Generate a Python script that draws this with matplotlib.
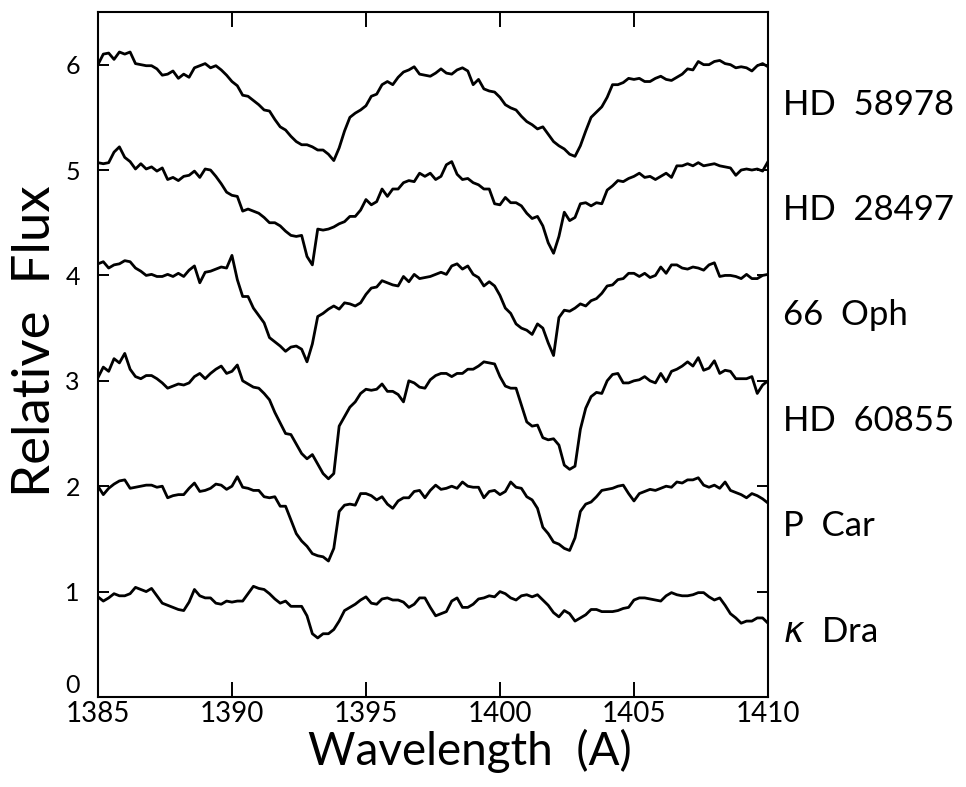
import numpy as np
import matplotlib
matplotlib.use('Agg')
import matplotlib.pyplot as plt
import matplotlib.transforms as mtransforms

plt.rcParams['font.family'] = ['Lato', 'DejaVu Sans']
plt.rcParams['mathtext.fontset'] = 'dejavusans'
plt.rcParams['xtick.direction'] = 'in'
plt.rcParams['ytick.direction'] = 'in'

wavelength = np.linspace(1385, 1410, 126)

star_names = ['HD  58978', 'HD  28497', '66  Oph', 'HD  60855', 'P  Car', r'$\kappa$  Dra']
levels = [6, 5, 4, 3, 2, 1]

hd58978 = [6.00, 6.10, 6.11, 6.05, 6.12, 6.10, 6.12, 6.01, 6.00, 5.99,
           5.99, 5.96, 5.90, 5.91, 5.94, 5.87, 5.91, 5.88, 5.97, 5.99,
           6.01, 5.97, 5.99, 5.95, 5.90, 5.84, 5.80, 5.71, 5.70, 5.66,
           5.62, 5.57, 5.56, 5.48, 5.41, 5.38, 5.32, 5.27, 5.24, 5.24,
           5.22, 5.19, 5.19, 5.15, 5.09, 5.21, 5.37, 5.50, 5.54, 5.57,
           5.61, 5.70, 5.72, 5.81, 5.84, 5.81, 5.88, 5.93, 5.95, 5.98,
           5.91, 5.90, 5.89, 5.92, 5.96, 5.92, 5.91, 5.95, 5.97, 5.94,
           5.81, 5.86, 5.77, 5.75, 5.74, 5.69, 5.62, 5.59, 5.57, 5.51,
           5.46, 5.43, 5.39, 5.41, 5.34, 5.27, 5.23, 5.20, 5.15, 5.13,
           5.23, 5.37, 5.50, 5.55, 5.60, 5.69, 5.81, 5.81, 5.83, 5.87,
           5.86, 5.87, 5.84, 5.84, 5.87, 5.89, 5.86, 5.85, 5.88, 5.91,
           5.96, 5.95, 6.03, 6.00, 6.00, 6.03, 6.04, 6.01, 6.00, 5.97,
           5.98, 5.97, 5.94, 5.99, 6.01, 5.98]

hd28497 = [5.07, 5.06, 5.07, 5.17, 5.22, 5.12, 5.08, 5.01, 5.06, 5.01,
           5.03, 4.99, 5.02, 4.91, 4.93, 4.90, 4.94, 4.95, 4.99, 4.93,
           5.01, 5.00, 4.94, 4.87, 4.79, 4.76, 4.75, 4.61, 4.63, 4.61,
           4.59, 4.55, 4.50, 4.50, 4.47, 4.42, 4.38, 4.37, 4.38, 4.18,
           4.10, 4.44, 4.43, 4.44, 4.46, 4.49, 4.51, 4.56, 4.56, 4.62,
           4.72, 4.67, 4.70, 4.82, 4.75, 4.82, 4.82, 4.88, 4.90, 4.89,
           4.97, 4.94, 4.97, 4.91, 4.94, 5.05, 5.08, 4.96, 4.91, 4.92,
           4.88, 4.86, 4.82, 4.82, 4.68, 4.67, 4.74, 4.69, 4.69, 4.66,
           4.59, 4.54, 4.56, 4.47, 4.31, 4.21, 4.37, 4.60, 4.52, 4.55,
           4.68, 4.69, 4.66, 4.69, 4.68, 4.81, 4.85, 4.90, 4.89, 4.92,
           4.94, 4.97, 4.93, 4.94, 4.91, 4.94, 4.97, 4.93, 5.04, 5.04,
           5.06, 5.04, 5.07, 5.04, 5.05, 5.06, 5.04, 5.03, 5.02, 4.95,
           5.00, 5.01, 5.00, 5.01, 4.99, 5.08]

oph66 = [4.11, 4.13, 4.07, 4.10, 4.11, 4.14, 4.13, 4.07, 4.04, 4.00,
         4.01, 3.99, 3.99, 4.01, 3.99, 4.02, 3.99, 4.05, 4.09, 3.93,
         4.03, 4.04, 4.06, 4.08, 4.07, 4.19, 3.96, 3.80, 3.80, 3.69,
         3.62, 3.55, 3.41, 3.37, 3.33, 3.28, 3.32, 3.33, 3.30, 3.18,
         3.35, 3.61, 3.64, 3.68, 3.71, 3.68, 3.74, 3.73, 3.71, 3.74,
         3.82, 3.88, 3.89, 3.95, 3.93, 3.91, 3.90, 3.99, 3.94, 4.01,
         3.97, 3.98, 3.99, 4.01, 4.03, 4.01, 4.09, 4.11, 4.06, 4.09,
         4.01, 3.98, 3.90, 3.94, 3.90, 3.81, 3.69, 3.64, 3.54, 3.50,
         3.48, 3.44, 3.54, 3.50, 3.36, 3.24, 3.60, 3.67, 3.66, 3.69,
         3.73, 3.71, 3.76, 3.78, 3.83, 3.90, 3.91, 3.96, 3.97, 4.02,
         4.02, 3.99, 4.02, 3.98, 4.00, 4.08, 4.02, 4.10, 4.10, 4.07,
         4.06, 4.08, 4.07, 4.05, 4.10, 4.12, 3.99, 4.00, 4.00, 3.99,
         3.97, 4.01, 3.97, 3.97, 4.00, 4.01]

hd60855 = [3.03, 3.13, 3.09, 3.21, 3.17, 3.26, 3.11, 3.04, 3.02, 3.05,
           3.05, 3.02, 2.98, 2.93, 2.95, 2.97, 2.96, 2.98, 3.04, 3.07,
           3.02, 3.07, 3.11, 3.14, 3.07, 3.09, 3.15, 3.00, 2.97, 2.94,
           2.93, 2.88, 2.82, 2.70, 2.60, 2.50, 2.49, 2.40, 2.31, 2.26,
           2.30, 2.21, 2.12, 2.07, 2.12, 2.57, 2.66, 2.75, 2.80, 2.88,
           2.92, 2.91, 2.92, 2.97, 2.90, 2.90, 2.87, 2.80, 3.00, 2.98,
           2.94, 2.93, 3.01, 3.05, 3.07, 3.07, 3.04, 3.07, 3.07, 3.11,
           3.11, 3.14, 3.18, 3.17, 3.16, 3.04, 2.95, 2.93, 2.93, 2.77,
           2.61, 2.57, 2.58, 2.46, 2.44, 2.45, 2.39, 2.20, 2.16, 2.19,
           2.54, 2.74, 2.85, 2.89, 2.88, 3.00, 3.06, 3.07, 2.98, 2.98,
           3.00, 3.01, 3.04, 3.00, 2.98, 3.07, 2.99, 3.09, 3.11, 3.14,
           3.18, 3.14, 3.22, 3.10, 3.12, 3.19, 3.07, 3.10, 3.09, 3.02,
           3.02, 3.02, 3.04, 2.88, 2.96, 3.00]

p_car = [2.00, 1.92, 1.98, 2.02, 2.05, 2.06, 1.98, 1.99, 2.00, 2.01,
         2.01, 1.99, 2.00, 1.89, 1.91, 1.92, 1.92, 1.98, 2.03, 1.95,
         1.96, 1.98, 2.02, 2.01, 1.97, 2.00, 2.09, 1.99, 1.98, 1.96,
         1.96, 1.90, 1.89, 1.90, 1.81, 1.81, 1.68, 1.55, 1.48, 1.43,
         1.36, 1.34, 1.33, 1.29, 1.41, 1.76, 1.82, 1.83, 1.82, 1.93,
         1.93, 1.91, 1.87, 1.90, 1.83, 1.79, 1.86, 1.89, 1.89, 1.95,
         1.96, 1.89, 1.96, 2.01, 1.97, 1.98, 2.00, 1.98, 2.04, 2.00,
         1.99, 1.99, 1.89, 1.95, 1.96, 1.92, 1.95, 2.04, 1.99, 1.98,
         1.90, 1.87, 1.79, 1.61, 1.55, 1.47, 1.45, 1.41, 1.39, 1.51,
         1.76, 1.83, 1.85, 1.90, 1.96, 1.97, 1.98, 2.00, 2.01, 1.93,
         1.86, 1.93, 1.95, 1.97, 1.96, 1.98, 2.00, 1.99, 2.04, 2.03,
         2.06, 2.06, 2.08, 2.01, 1.99, 2.01, 1.98, 2.04, 1.96, 1.94,
         1.92, 1.89, 1.93, 1.91, 1.88, 1.84]

kappa_dra = [0.95, 0.91, 0.94, 0.98, 0.96, 0.96, 0.98, 1.04, 1.02, 1.00,
             1.03, 0.96, 0.89, 0.87, 0.85, 0.83, 0.82, 0.90, 1.02, 0.96,
             0.94, 0.94, 0.89, 0.88, 0.91, 0.90, 0.91, 0.91, 0.98, 1.05,
             1.03, 1.02, 0.98, 0.93, 0.89, 0.91, 0.86, 0.86, 0.86, 0.77,
             0.60, 0.56, 0.60, 0.60, 0.64, 0.72, 0.82, 0.85, 0.88, 0.92,
             0.95, 0.89, 0.88, 0.93, 0.94, 0.92, 0.92, 0.90, 0.85, 0.88,
             0.94, 0.94, 0.85, 0.77, 0.79, 0.81, 0.91, 0.94, 0.85, 0.85,
             0.88, 0.93, 0.94, 0.96, 0.95, 1.00, 0.98, 0.94, 0.92, 0.96,
             0.97, 0.95, 0.97, 0.92, 0.87, 0.80, 0.76, 0.82, 0.79, 0.72,
             0.75, 0.78, 0.83, 0.83, 0.81, 0.81, 0.81, 0.82, 0.84, 0.85,
             0.92, 0.94, 0.94, 0.93, 0.92, 0.91, 0.96, 0.99, 0.97, 0.96,
             0.96, 0.97, 0.99, 0.99, 0.95, 0.92, 0.94, 0.87, 0.79, 0.75,
             0.70, 0.72, 0.72, 0.75, 0.75, 0.70]

spectra = [hd58978, hd28497, oph66, hd60855, p_car, kappa_dra]

fig = plt.figure(figsize=(9.66, 7.87), dpi=100)
ax = fig.add_axes([0.1014, 0.1144, 0.6936, 0.8704])

for flux in spectra:
    ax.plot(wavelength, flux, color='black', linewidth=2.0)

ax.set_xlim(1385, 1410)
ax.set_ylim(0, 6.5)
ax.set_xticks([1385, 1390, 1395, 1400, 1405, 1410])
ax.set_yticks([0, 1, 2, 3, 4, 5, 6])
ax.tick_params(axis='x', length=11, width=1.4, labelsize=20, pad=3, top=True)
ax.tick_params(axis='y', length=8, width=1.4, labelsize=18, pad=13, right=True)
for sp in ax.spines.values():
    sp.set_linewidth(1.5)
# the zero label sits just above the corner, as in the original
ax.get_yticklabels()[0].set_verticalalignment('bottom')

ax.set_xlabel('Wavelength  (A)', fontsize=33)
ax.set_ylabel('Relative  Flux', fontsize=38)
ax.xaxis.set_label_coords(0.555, -0.047)
ax.yaxis.set_label_coords(-0.058, 0.52)

trans = mtransforms.blended_transform_factory(ax.transAxes, ax.transData)
for name, lev in zip(star_names, levels):
    ax.text(1.022, lev - 0.38, name, transform=trans, fontsize=25,
            ha='left', va='center', clip_on=False)

fig.savefig('out.png', dpi=100)
